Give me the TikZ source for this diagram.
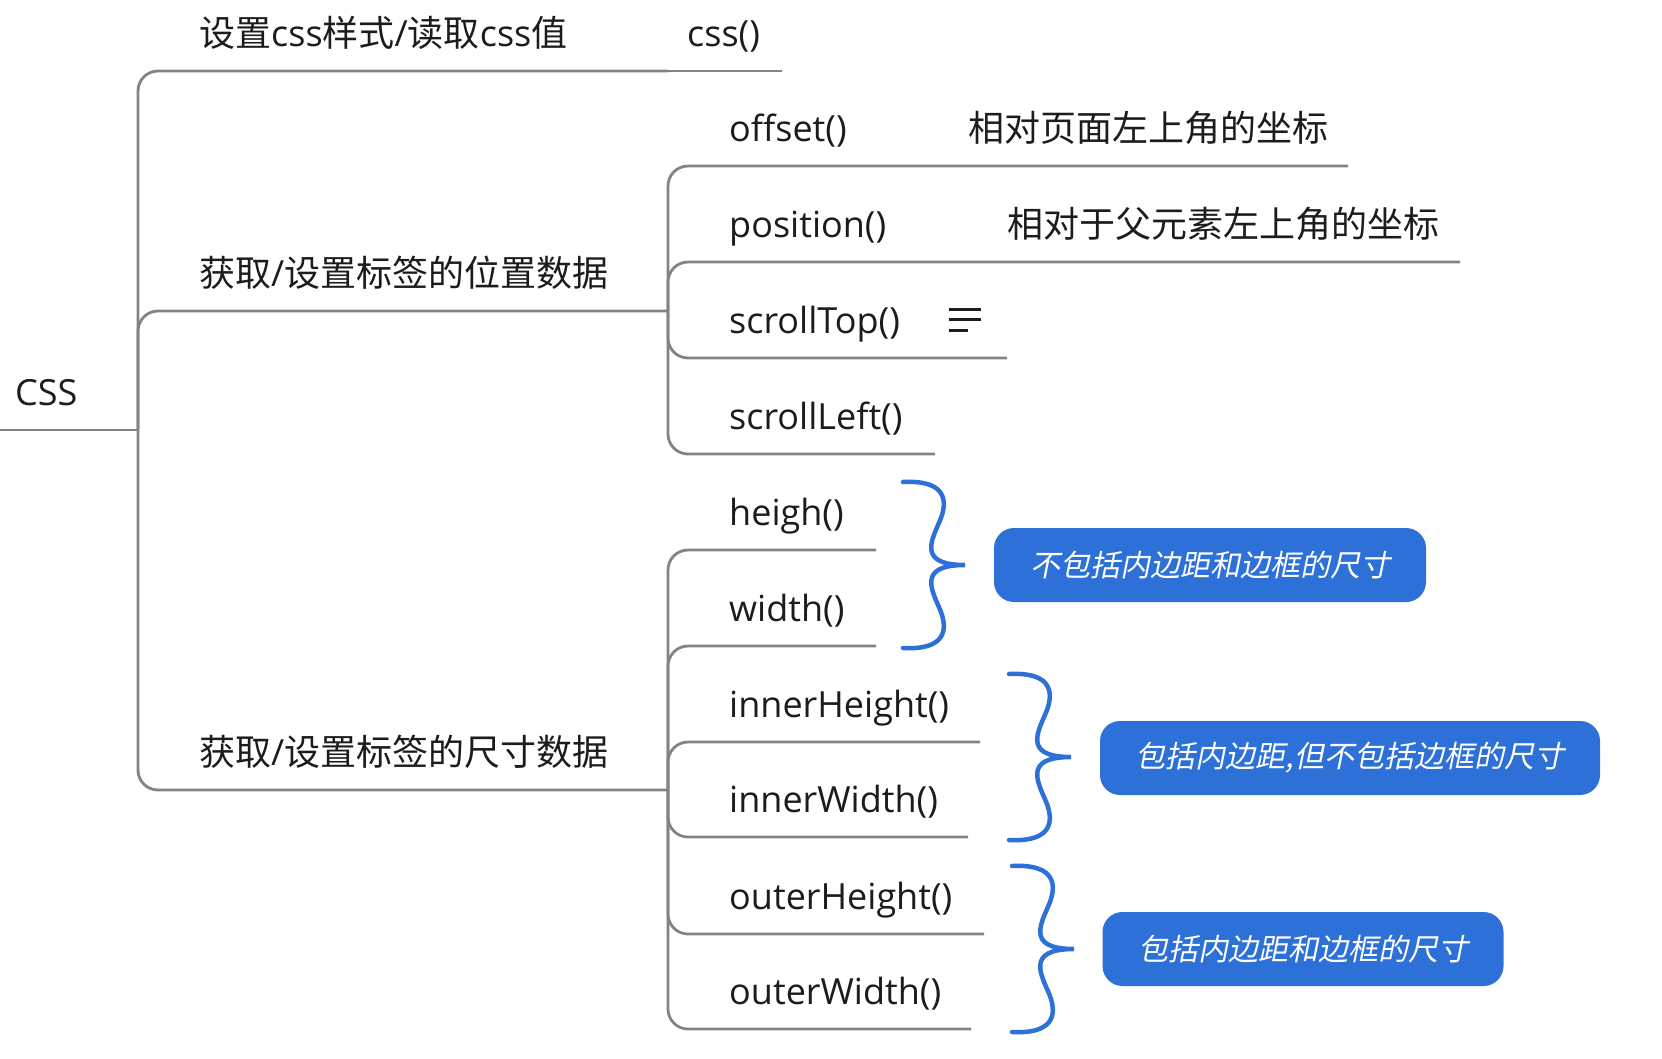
\documentclass[tikz,border=0pt]{standalone}
\usepackage{fontspec}
\setmainfont{Open Sans}
\newfontfamily\cjk{Noto Sans CJK SC}
\newfontfamily\cjkit{Noto Sans CJK SC}[FakeSlant=0.2]

\definecolor{linegray}{HTML}{838383}
\definecolor{ink}{HTML}{1C1C1C}
\definecolor{tagblue}{HTML}{2C70D8}

\begin{document}
\begin{tikzpicture}[
    x=1pt, y=-1pt,
    topic/.style={anchor=base west, inner sep=0pt, text=ink, font=\fontsize{36}{40}\selectfont},
    link/.style={draw=linegray, line width=2.8pt, rounded corners=20pt},
    tag/.style={rectangle, rounded corners=20pt, fill=tagblue, text=white, minimum height=74pt, font=\cjkit\fontsize{30}{34}\selectfont},
    curly/.style={draw=tagblue, line width=4.5pt, line cap=round},
    iconline/.style={draw=ink, line width=3pt}
]
\useasboundingbox (0,0) rectangle (1662,1058);

% Root
\node[topic] (root) at (15,405) {CSS};
\coordinate (start) at (0,430);
\coordinate (j0) at (138,430);
\draw[link] (start) -- (j0);

% Level 1
\node[topic] (b1) at (199,46) {{\cjk 设置}css{\cjk 样式}/{\cjk 读取}css{\cjk 值}};
\node[topic] (b2) at (199,286) {{\cjk 获取}/{\cjk 设置标签的位置数据}};
\node[topic] (b3) at (199,765) {{\cjk 获取}/{\cjk 设置标签的尺寸数据}};
\coordinate (j1) at (668,71);
\coordinate (j2) at (668,311);
\coordinate (j3) at (668,790);
\draw[link] (j0) |- (j1);
\draw[link] (j0) |- (j2);
\draw[link] (j0) |- (j3);

% Level 2 - css
\node[topic] (css) at (687,46) {css()};
\coordinate (css-e) at (782,71);
\draw[link] (j1) -- (css-e);

% Level 2 - position
\node[topic] (offset) at (729,141) {offset()};
\node[topic] (offset-n) at (968,141) {\cjk 相对页面左上角的坐标};
\node[topic] (position) at (729,237) {position()};
\node[topic] (position-n) at (1007,237) {\cjk 相对于父元素左上角的坐标};
\node[topic] (scrolltop) at (729,333) {scrollTop()};
\node[topic] (scrollleft) at (729,429) {scrollLeft()};
\coordinate (offset-e) at (1348,166);
\coordinate (position-e) at (1460,262);
\coordinate (scrolltop-e) at (1007,358);
\coordinate (scrollleft-e) at (935,454);
\draw[link] (j2) |- (offset-e);
\draw[link] (j2) |- (position-e);
\draw[link] (j2) |- (scrolltop-e);
\draw[link] (j2) |- (scrollleft-e);

% note icon
\draw[iconline] (949,309) -- (981,309);
\draw[iconline] (949,319) -- (981,319);
\draw[iconline] (949,330) -- (968,330);

% Level 2 - size
\node[topic] (heigh) at (729,525) {heigh()};
\node[topic] (width) at (729,621) {width()};
\node[topic] (innerheight) at (729,717) {innerHeight()};
\node[topic] (innerwidth) at (729,812) {innerWidth()};
\node[topic] (outerheight) at (729,909) {outerHeight()};
\node[topic] (outerwidth) at (729,1004) {outerWidth()};
\coordinate (heigh-e) at (876,550);
\coordinate (width-e) at (876,646);
\coordinate (innerheight-e) at (980,742);
\coordinate (innerwidth-e) at (968,837);
\coordinate (outerheight-e) at (984,934);
\coordinate (outerwidth-e) at (971,1029);
\draw[link] (j3) |- (heigh-e);
\draw[link] (j3) |- (width-e);
\draw[link] (j3) |- (innerheight-e);
\draw[link] (j3) |- (innerwidth-e);
\draw[link] (j3) |- (outerheight-e);
\draw[link] (j3) |- (outerwidth-e);

% Braces
\draw[curly, shift={(903,482)}] (0,0) .. controls (38,-2) and (46,14) .. (38,36) .. controls (30,56) and (12,83) .. (62,83)
    .. controls (12,83) and (30,110) .. (38,130) .. controls (46,152) and (38,168) .. (0,166);
\draw[curly, shift={(1009,674)}] (0,0) .. controls (38,-2) and (46,14) .. (38,36) .. controls (30,56) and (12,83) .. (62,83)
    .. controls (12,83) and (30,110) .. (38,130) .. controls (46,152) and (38,168) .. (0,166);
\draw[curly, shift={(1012,866)}] (0,0) .. controls (38,-2) and (46,14) .. (38,36) .. controls (30,56) and (12,83) .. (62,83)
    .. controls (12,83) and (30,110) .. (38,130) .. controls (46,152) and (38,168) .. (0,166);

% Summary tags
\node[tag, minimum width=432pt] (tag1) at (1210,565) {不包括内边距和边框的尺寸};
\node[tag, minimum width=500pt] (tag2) at (1350,758) {包括内边距,但不包括边框的尺寸};
\node[tag, minimum width=401pt] (tag3) at (1303,949) {包括内边距和边框的尺寸};

\end{tikzpicture}
\end{document}
